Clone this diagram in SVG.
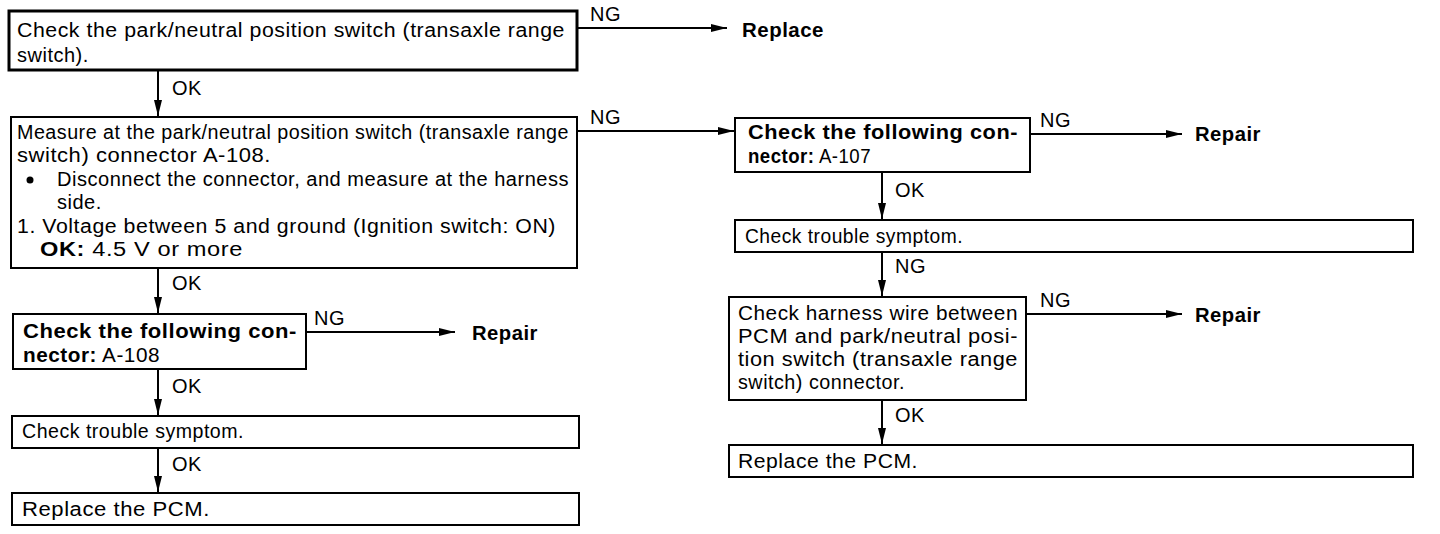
<svg xmlns="http://www.w3.org/2000/svg" width="1440" height="534" viewBox="0 0 1440 534">
<style>
.box{fill:#fff;stroke:#000;stroke-width:2}
.thick{stroke-width:3}
text{font-family:"Liberation Sans",Arial,sans-serif;font-size:20px;letter-spacing:0.5px;fill:#000}
.b{font-weight:bold}
.c{stroke:#000;stroke-width:2;fill:none}
</style>
<defs>
<marker id="ah" viewBox="0 0 16 8" refX="16" refY="4" markerWidth="16" markerHeight="8" markerUnits="userSpaceOnUse" orient="auto">
<path d="M0,0 L16,4 L0,8 Z" fill="#000"/>
</marker>
</defs>
<rect width="1440" height="534" fill="#fff"/>
<g id="connectors">
<line class="c" x1="577" y1="28" x2="727" y2="28" marker-end="url(#ah)"/>
<text x="590" y="21">NG</text>
<line class="c" x1="158" y1="70" x2="158" y2="116" marker-end="url(#ah)"/>
<text x="172" y="95">OK</text>
<line class="c" x1="577" y1="131" x2="734" y2="131" marker-end="url(#ah)"/>
<text x="590" y="124">NG</text>
<line class="c" x1="158" y1="268" x2="158" y2="313" marker-end="url(#ah)"/>
<text x="172" y="290">OK</text>
<line class="c" x1="306" y1="332" x2="455" y2="332" marker-end="url(#ah)"/>
<text x="314" y="325">NG</text>
<line class="c" x1="158" y1="369" x2="158" y2="415" marker-end="url(#ah)"/>
<text x="172" y="393">OK</text>
<line class="c" x1="158" y1="448" x2="158" y2="492" marker-end="url(#ah)"/>
<text x="172" y="471">OK</text>
<line class="c" x1="1030" y1="134" x2="1182" y2="134" marker-end="url(#ah)"/>
<text x="1040" y="127">NG</text>
<line class="c" x1="882" y1="172" x2="882" y2="219" marker-end="url(#ah)"/>
<text x="895" y="197">OK</text>
<line class="c" x1="882" y1="252" x2="882" y2="296" marker-end="url(#ah)"/>
<text x="895" y="273">NG</text>
<line class="c" x1="1026" y1="314" x2="1182" y2="314" marker-end="url(#ah)"/>
<text x="1040" y="307">NG</text>
<line class="c" x1="882" y1="400" x2="882" y2="444" marker-end="url(#ah)"/>
<text x="895" y="422">OK</text>
</g>
<g id="n1">
<rect class="box thick" x="9" y="11" width="568" height="59"/>
<text x="17" y="37" textLength="548" lengthAdjust="spacingAndGlyphs">Check the park/neutral position switch (transaxle range</text>
<text x="17" y="62">switch).</text>
</g>
<g id="replace1"><text class="b" x="742" y="37" textLength="82" lengthAdjust="spacingAndGlyphs">Replace</text></g>
<g id="n2">
<rect class="box" x="11" y="117" width="566" height="151"/>
<text x="17" y="139" textLength="552" lengthAdjust="spacingAndGlyphs">Measure at the park/neutral position switch (transaxle range</text>
<text x="17" y="162" textLength="254" lengthAdjust="spacingAndGlyphs">switch) connector A-108.</text>
<circle cx="30" cy="180" r="3.5" fill="#000"/>
<text x="57" y="186" textLength="512" lengthAdjust="spacingAndGlyphs">Disconnect the connector, and measure at the harness</text>
<text x="57" y="209">side.</text>
<text x="17" y="233" textLength="539" lengthAdjust="spacingAndGlyphs">1. Voltage between 5 and ground (Ignition switch: ON)</text>
<text x="40" y="256" textLength="203" lengthAdjust="spacingAndGlyphs"><tspan class="b">OK:</tspan> 4.5 V or more</text>
</g>
<g id="n3">
<rect class="box" x="13" y="314" width="293" height="55"/>
<text class="b" x="23" y="338" textLength="274" lengthAdjust="spacingAndGlyphs">Check the following con-</text>
<text x="23" y="362" textLength="137" lengthAdjust="spacingAndGlyphs"><tspan class="b">nector:</tspan> A-108</text>
</g>
<g id="repair1"><text class="b" x="472" y="340" textLength="66" lengthAdjust="spacingAndGlyphs">Repair</text></g>
<g id="n4">
<rect class="box" x="12" y="416" width="567" height="32"/>
<text x="22" y="438" textLength="222" lengthAdjust="spacingAndGlyphs">Check trouble symptom.</text>
</g>
<g id="n5">
<rect class="box" x="12" y="493" width="567" height="32"/>
<text x="22" y="516" textLength="188" lengthAdjust="spacingAndGlyphs">Replace the PCM.</text>
</g>
<g id="r1">
<rect class="box" x="735" y="118" width="295" height="54"/>
<text class="b" x="748" y="139" textLength="270" lengthAdjust="spacingAndGlyphs">Check the following con-</text>
<text x="748" y="163" textLength="123" lengthAdjust="spacingAndGlyphs"><tspan class="b">nector:</tspan> A-107</text>
</g>
<g id="repair2"><text class="b" x="1195" y="141" textLength="66" lengthAdjust="spacingAndGlyphs">Repair</text></g>
<g id="r2">
<rect class="box" x="735" y="220" width="678" height="32"/>
<text x="745" y="243" textLength="218" lengthAdjust="spacingAndGlyphs">Check trouble symptom.</text>
</g>
<g id="r3">
<rect class="box" x="729" y="297" width="297" height="103"/>
<text x="738" y="320" textLength="280" lengthAdjust="spacingAndGlyphs">Check harness wire between</text>
<text x="738" y="343" textLength="280" lengthAdjust="spacingAndGlyphs">PCM and park/neutral posi-</text>
<text x="738" y="366" textLength="280" lengthAdjust="spacingAndGlyphs">tion switch (transaxle range</text>
<text x="738" y="389" textLength="167" lengthAdjust="spacingAndGlyphs">switch) connector.</text>
</g>
<g id="repair3"><text class="b" x="1195" y="322" textLength="66" lengthAdjust="spacingAndGlyphs">Repair</text></g>
<g id="r4">
<rect class="box" x="729" y="445" width="684" height="32"/>
<text x="738" y="468" textLength="180" lengthAdjust="spacingAndGlyphs">Replace the PCM.</text>
</g>
</svg>
